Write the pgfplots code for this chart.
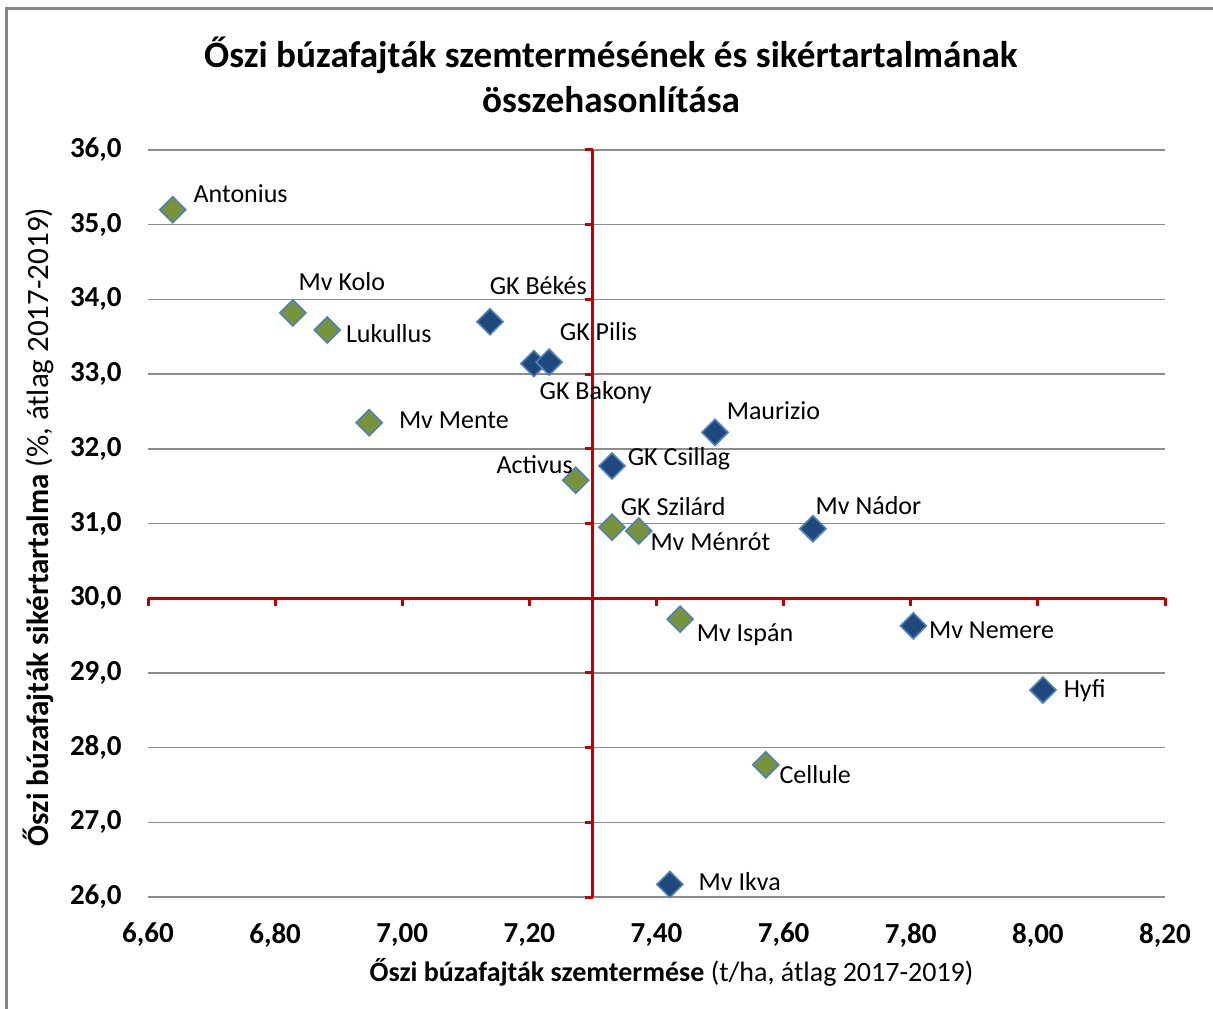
\documentclass[border=0pt]{standalone}
\usepackage{fontspec}
\setmainfont{Carlito}
\usepackage{pgfplots}
\usepackage{pgfplotstable}
\pgfplotsset{compat=1.18}
\definecolor{mkgreen}{HTML}{77933C}
\definecolor{mkblue}{HTML}{1F497D}
\definecolor{mkedge}{HTML}{4F81BD}
\definecolor{axred}{HTML}{C00000}
\definecolor{gridgray}{HTML}{8C8C8C}
\definecolor{bordergray}{HTML}{868686}

\pgfplotstableread{
x y label dx dy
6.639 35.20 Antonius 10 6.5
6.828 33.82 {Mv Kolo} 2.5 14
6.882 33.59 Lukullus 9 -3.5
6.948 32.35 {Mv Mente} 14.5 0
7.273 31.58 Activus -40 6.5
7.330 30.95 {GK Szilárd} 4 9
7.372 30.90 {Mv Ménrót} 5.5 -7
7.437 29.72 {Mv Ispán} 8 -8
7.572 27.77 Cellule 6.5 -6.5
}\greendata

\pgfplotstableread{
x y label dx dy
7.138 33.70 {GK Békés} -0.5 16.5
7.207 33.14 {GK Bakony} 2.5 -15
7.231 33.16 {GK Pilis} 5 14
7.492 32.22 Maurizio 5.5 9.5
7.330 31.77 {GK Csillag} 7.5 3
7.646 30.93 {Mv Nádor} 1 10
7.804 29.63 {Mv Nemere} 7.5 -3.5
8.008 28.77 Hyfi 10 -0.5
7.421 26.17 {Mv Ikva} 14 0
}\bluedata

\pgfplotsset{
  lblscatter/.style={only marks, mark=square*, mark size=4.6pt,
    mark options={rotate=45, fill=#1, draw=mkedge, line width=0.8pt},
    nodes near coords, point meta=explicit symbolic,
    visualization depends on={\thisrow{dx}\as\dx},
    visualization depends on={\thisrow{dy}\as\dy},
    every node near coord/.append style={anchor=west, xshift=\dx pt, yshift=\dy pt, inner sep=0pt,
      text height=1.5ex, text depth=0.25ex, font=\fontsize{13}{15}\selectfont, text=black}},
}

\begin{document}
\begin{tikzpicture}
\useasboundingbox (-74pt,-55.5pt) rectangle (532.5pt,448.5pt);
\draw[bordergray, line width=1.2pt] (-70.75pt,-70pt) -- (-70.75pt,444.25pt) -- (545pt,444.25pt);
\begin{axis}[
  at={(0pt,0pt)}, anchor=south west,
  scale only axis, width=508.5pt, height=373.5pt,
  xmin=6.6, xmax=8.2, ymin=26, ymax=36,
  xtick={6.6,6.8,7.0,7.2,7.4,7.6,7.8,8.0,8.2},
  ytick={26,27,28,29,30,31,32,33,34,35,36},
  axis line style={draw=none},
  major tick length=0pt,
  ymajorgrids, grid style={gridgray, line width=0.75pt},
  clip=false,
  /pgf/number format/assume math mode=true,
  xticklabel style={font=\fontsize{14.5}{17}\selectfont\bfseries, anchor=center, yshift=-19pt,
    /pgf/number format/.cd, fixed, fixed zerofill, precision=2, use comma},
  yticklabel style={font=\fontsize{14.5}{17}\selectfont\bfseries, anchor=east, inner sep=0pt, xshift=-13pt,
    /pgf/number format/.cd, fixed, fixed zerofill, precision=1, use comma},
]
% red crossing axes
\draw[axred, line width=1.5pt] (axis cs:6.6,30) -- (axis cs:8.2,30);
\draw[axred, line width=1.5pt] (axis cs:7.3,26) -- (axis cs:7.3,36);
\pgfplotsinvokeforeach{6.6,6.8,7.0,7.2,7.4,7.6,7.8,8.0,8.2}{
  \draw[axred, line width=1.5pt] (axis cs:#1,30) -- ++(0pt,-4pt);
}
\pgfplotsinvokeforeach{26,27,28,29,30,31,32,33,34,35,36}{
  \draw[axred, line width=1.5pt] (axis cs:7.3,#1) -- ++(-4pt,0pt);
}
\addplot[lblscatter=mkgreen] table[x=x, y=y, meta=label]{\greendata};
\addplot[lblscatter=mkblue] table[x=x, y=y, meta=label]{\bluedata};
\end{axis}
\node[align=center, font=\fontsize{18.6}{22.5}\selectfont\bfseries] at (231.5pt,411.25pt)
  {Őszi búzafajták szemtermésének és sikértartalmának\\összehasonlítása};
\node[font=\fontsize{14}{16}\selectfont] at (261.75pt,-37.5pt)
  {\textbf{Őszi búzafajták szemtermése} (t/ha, átlag 2017-2019)};
\node[rotate=90, font=\fontsize{15.5}{17}\selectfont] at (-55pt,185pt)
  {\textbf{Őszi búzafajták sikértartalma} (\%, átlag 2017-2019)};
\end{tikzpicture}
\end{document}
